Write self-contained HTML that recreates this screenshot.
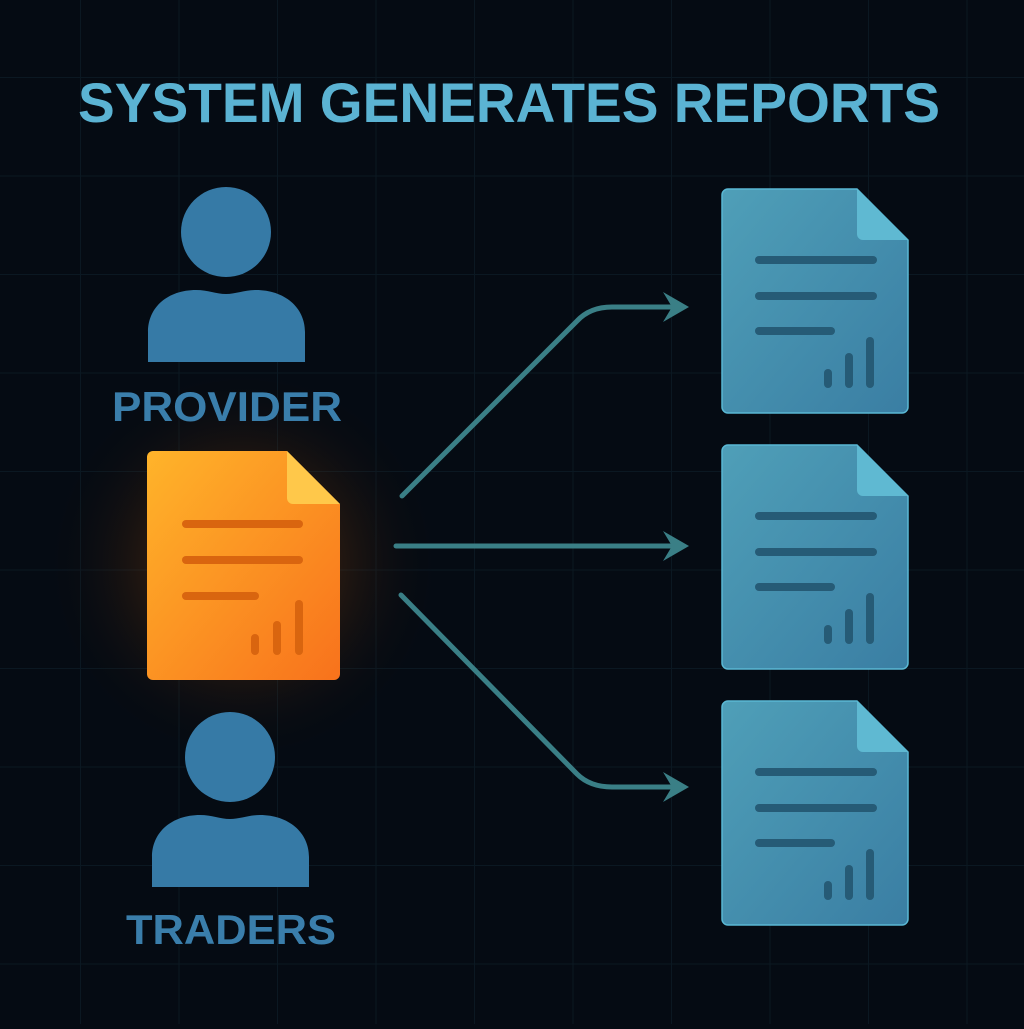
<!DOCTYPE html>
<html><head><meta charset="utf-8"><style>
html,body{margin:0;padding:0;background:#050b13;}
body{width:1024px;height:1024px;overflow:hidden;position:relative;font-family:"Liberation Sans",sans-serif;}
</style></head><body>
<svg width="1024" height="1024" viewBox="0 0 1024 1024" xmlns="http://www.w3.org/2000/svg">
<defs>
<pattern id="grid" x="80" y="77" width="98.5" height="98.5" patternUnits="userSpaceOnUse">
<path d="M0 0H98.5M0 0V98.5" stroke="#0b1822" stroke-width="2" fill="none"/>
</pattern>
<radialGradient id="glow" cx="243" cy="565" r="200" gradientUnits="userSpaceOnUse">
<stop offset="0" stop-color="#ff8a10" stop-opacity="0.5"/>
<stop offset="0.5" stop-color="#a04a08" stop-opacity="0.18"/>
<stop offset="1" stop-color="#000" stop-opacity="0"/>
</radialGradient>
<linearGradient id="og" x1="0" y1="0" x2="1" y2="1">
<stop offset="0" stop-color="#ffb42a"/><stop offset="1" stop-color="#f8721c"/>
</linearGradient>
<linearGradient id="bg" x1="0" y1="0" x2="1" y2="1">
<stop offset="0" stop-color="#4f9fb8"/><stop offset="1" stop-color="#3a7ea3"/>
</linearGradient>
<g id="doc">
<path d="M6 0H135L186 51V218a6 6 0 0 1-6 6H6a6 6 0 0 1-6-6V6a6 6 0 0 1 6-6z" fill="url(#bg)" stroke="#5ab8d4" stroke-width="1.5"/>
<path d="M135 0L186 51H141a6 6 0 0 1-6-6z" fill="#5fb9d2"/>
<g stroke="#265b76" stroke-width="8" stroke-linecap="round">
<line x1="37" y1="71" x2="151" y2="71"/><line x1="37" y1="107" x2="151" y2="107"/><line x1="37" y1="142" x2="109" y2="142"/>
<line x1="106" y1="184" x2="106" y2="195"/><line x1="127" y1="168" x2="127" y2="195"/><line x1="148" y1="152" x2="148" y2="195"/>
</g>
</g>
</defs>
<rect width="1024" height="1024" fill="#050b13"/>
<rect width="1024" height="1024" fill="url(#grid)"/>
<rect width="1024" height="1024" fill="url(#glow)"/>
<text x="509" y="122" text-anchor="middle" font-family="Liberation Sans" font-weight="bold" font-size="56" fill="#5bb3d3" textLength="862" lengthAdjust="spacingAndGlyphs">SYSTEM GENERATES REPORTS</text>
<!-- provider -->
<circle cx="226" cy="232" r="45" fill="#367aa6"/>
<path d="M148 362V332c0-25 20-42 48-42c12 0 20 4 30 4s18-4 30-4c28 0 49 17 49 42V362z" fill="#367aa6"/>
<text x="227" y="421" text-anchor="middle" font-weight="bold" font-size="42" fill="#3a7eab" textLength="230" lengthAdjust="spacingAndGlyphs">PROVIDER</text>
<!-- traders -->
<circle cx="230" cy="757" r="45" fill="#367aa6"/>
<path d="M152 887V857c0-25 20-42 48-42c12 0 20 4 30 4s18-4 30-4c28 0 49 17 49 42V887z" fill="#367aa6"/>
<text x="231" y="944" text-anchor="middle" font-weight="bold" font-size="42" fill="#3a7eab" textLength="210" lengthAdjust="spacingAndGlyphs">TRADERS</text>
<!-- orange doc -->
<path d="M153 451H287L340 504V674a6 6 0 0 1-6 6H153a6 6 0 0 1-6-6V457a6 6 0 0 1 6-6z" fill="url(#og)"/>
<path d="M287 451L340 504H293a6 6 0 0 1-6-6z" fill="#ffc84a"/>
<g stroke="#d9650f" stroke-width="8" stroke-linecap="round">
<line x1="186" y1="524" x2="299" y2="524"/><line x1="186" y1="560" x2="299" y2="560"/><line x1="186" y1="596" x2="255" y2="596"/>
<line x1="255" y1="638" x2="255" y2="651"/><line x1="277" y1="625" x2="277" y2="651"/><line x1="299" y1="604" x2="299" y2="651"/>
</g>
<!-- arrows -->
<g stroke="#3a7f86" stroke-width="5" fill="none" stroke-linecap="round">
<path d="M402 496L577 321Q590 307 612 307H675"/>
<path d="M396 546H675"/>
<path d="M401 595L577 774Q590 787 612 787H675"/>
</g>
<g fill="#3a7f86">
<path d="M689 307L663 292L672 307L663 322z"/>
<path d="M689 546L663 531L672 546L663 561z"/>
<path d="M689 787L663 772L672 787L663 802z"/>
</g>
<use href="#doc" x="722" y="189"/>
<use href="#doc" x="722" y="445"/>
<use href="#doc" x="722" y="701"/>
</svg>
</body></html>
